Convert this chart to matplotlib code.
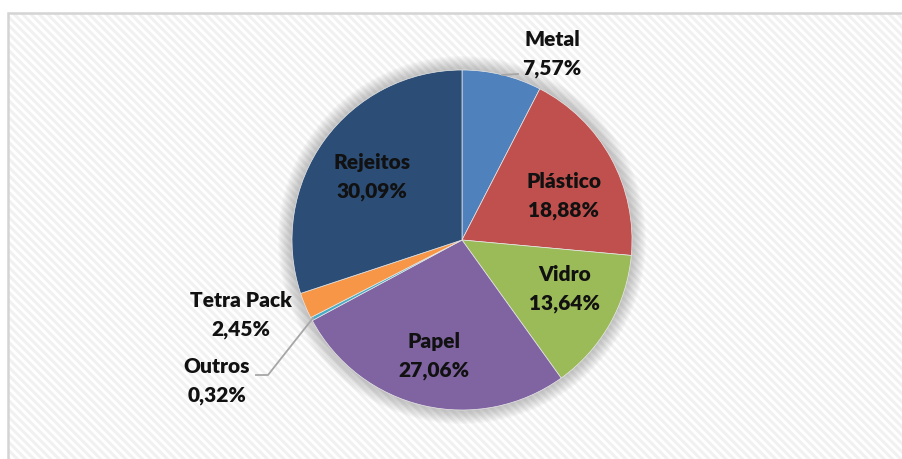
import numpy as np
import matplotlib
matplotlib.use("Agg")
import matplotlib.pyplot as plt
from matplotlib.patches import Rectangle, Circle

categories = ["Metal", "Plástico", "Vidro", "Papel", "Outros", "Tetra Pack", "Rejeitos"]
values = [7.57, 18.88, 13.64, 27.06, 0.32, 2.45, 30.09]
labels = ["7,57%", "18,88%", "13,64%", "27,06%", "0,32%", "2,45%", "30,09%"]
colors = ["#4F81BD", "#C0504D", "#9BBB59", "#8064A2", "#4BACC6", "#F79646", "#2C4D75"]

W, H = 903, 459
plt.rcParams['hatch.linewidth'] = 2.2
fig = plt.figure(figsize=(W / 100, H / 100), dpi=100)
fig.patch.set_facecolor('white')
ax = fig.add_axes([0, 0, 1, 1])
ax.set_xlim(0, W)
ax.set_ylim(0, H)
ax.axis('off')

# chart area with diagonal stripes
stripes = Rectangle((8, -5), W + 10, H - 13 + 5, facecolor='white', edgecolor='#f1f1f1',
                    linewidth=0, hatch='\\\\\\\\', zorder=0)
ax.add_patch(stripes)
border = Rectangle((8, -5), W + 10, H - 13 + 5, facecolor='none', edgecolor='#d4d4d4',
                   linewidth=1.8, zorder=0.5)
ax.add_patch(border)

cx, cy, R = 462, H - 240, 170

# soft shadow
for k in range(14, 0, -1):
    ax.add_patch(Circle((cx, cy), R + k, facecolor='#707070', alpha=0.03,
                        edgecolor='none', zorder=1))

wedges, _ = ax.pie(values, colors=colors, startangle=90, counterclock=False,
                   center=(cx, cy), radius=R, frame=True,
                   wedgeprops=dict(linewidth=0.5, edgecolor='#e8e8e8'))
for w in wedges:
    w.set_zorder(2)
ax.set_xlim(0, W)
ax.set_ylim(0, H)
ax.set_aspect('equal')
ax.axis('off')

font = dict(family=['Lato', 'DejaVu Sans'], fontweight='heavy', fontsize=15,
            color='#111111', ha='center', va='center', linespacing=1.55, zorder=5)

# label positions (pixel, from top)
pos = {
    "Metal": (552, 54),
    "Plástico": (564, 196),
    "Vidro": (565, 289),
    "Papel": (434, 356),
    "Outros": (217, 381),
    "Tetra Pack": (241, 315),
    "Rejeitos": (372, 177),
}
for cat, lab in zip(categories, labels):
    px, py = pos[cat]
    ax.text(px, H - py, f"{cat}\n{lab}", **font)

# leader lines
ax.plot([313, 268, 256], [H - 318, H - 375, H - 375], color='#a6a6a6', lw=1.3, zorder=4)
ax.plot([502, 518], [H - 75, H - 74], color='#a6a6a6', lw=1.3, zorder=4)

fig.savefig("out.png", dpi=100)
